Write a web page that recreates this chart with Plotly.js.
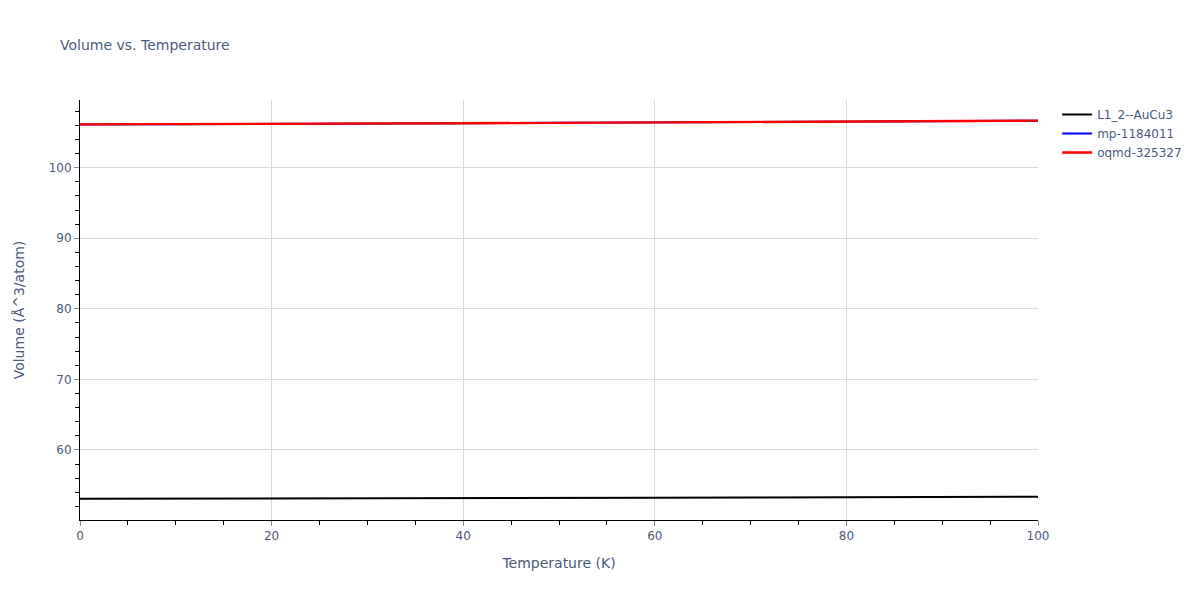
<!DOCTYPE html>
<html>
<head>
<meta charset="utf-8">
<script src="https://cdn.plot.ly/plotly-3.0.1.min.js"></script>
<style>html,body{margin:0;padding:0;background:#fff;}#chart{width:1200px;height:600px;}</style>
</head>
<body>
<div id="chart"></div>
<script>
const temperature = [0, 10, 20, 30, 40, 50, 60, 70, 80, 90, 100];
const volAuCu3 = [53.09, 53.10, 53.12, 53.14, 53.17, 53.20, 53.23, 53.27, 53.30, 53.34, 53.38];
const volMp = [106.14, 106.16, 106.20, 106.25, 106.30, 106.36, 106.42, 106.48, 106.54, 106.60, 106.67];
const volOqmd = [106.14, 106.16, 106.20, 106.25, 106.30, 106.36, 106.42, 106.48, 106.54, 106.60, 106.67];
const seriesNames = ['L1_2--AuCu3', 'mp-1184011', 'oqmd-325327'];

const textColor = '#4a5b7a';

const traces = [
  {x: temperature, y: volAuCu3, name: seriesNames[0], mode: 'lines', line: {color: 'black', width: 2}},
  {x: temperature, y: volMp, name: seriesNames[1], mode: 'lines', line: {color: 'blue', width: 2}},
  {x: temperature, y: volOqmd, name: seriesNames[2], mode: 'lines', line: {color: 'red', width: 2.4}}
];

const axisCommon = {
  showline: true, linecolor: 'black', linewidth: 1,
  showgrid: true, gridcolor: '#d9d9d9', gridwidth: 1,
  zeroline: false,
  ticks: 'outside', ticklen: 5, tickcolor: '#888',
  tickfont: {size: 12, color: textColor},
  minor: {ticks: 'outside', ticklen: 4, tickcolor: 'black', showgrid: false}
};

const layout = {
  width: 1200, height: 600,
  paper_bgcolor: 'white', plot_bgcolor: 'white',
  font: {family: '"DejaVu Sans", Verdana, sans-serif', color: textColor, size: 12},
  title: {text: 'Volume vs. Temperature', x: 0.05, xanchor: 'left', font: {size: 14, color: textColor}},
  margin: {l: 80, r: 162, t: 100, b: 80},
  xaxis: Object.assign({}, axisCommon, {
    title: {text: 'Temperature (K)', font: {size: 14, color: textColor}, standoff: 15},
    range: [0, 100], dtick: 20, minor: Object.assign({}, axisCommon.minor, {dtick: 5})
  }),
  yaxis: Object.assign({}, axisCommon, {
    title: {text: 'Volume (Å^3/atom)', font: {size: 14, color: textColor}, standoff: 20},
    range: [50.07, 109.6], dtick: 10, minor: Object.assign({}, axisCommon.minor, {dtick: 2})
  }),
  legend: {x: 1.02, y: 1, xanchor: 'left', yanchor: 'top', font: {size: 12, color: textColor}},
  showlegend: true
};

Plotly.newPlot('chart', traces, layout, {displayModeBar: false});
</script>
</body>
</html>
